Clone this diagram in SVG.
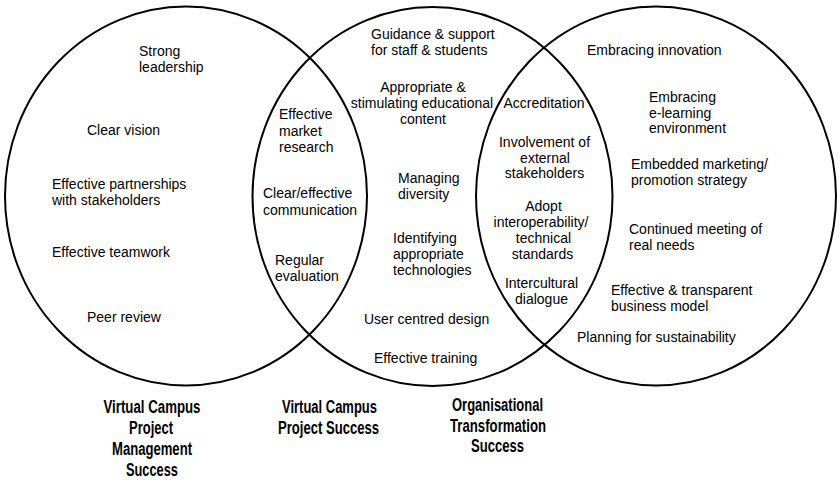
<svg xmlns="http://www.w3.org/2000/svg" width="840" height="488" viewBox="0 0 840 488">
<style>
.set{fill:none;stroke:#000;stroke-width:2}
.t{font-family:"Liberation Sans",Arial,sans-serif;font-size:14px;fill:#000}
.c{text-anchor:middle}
.h{font-family:"Liberation Sans",Arial,sans-serif;font-size:18px;font-weight:bold;fill:#000;text-anchor:middle}
</style>
<rect width="840" height="488" fill="#fff"/>
<g id="sets">
<ellipse id="set-pm" class="set" cx="186" cy="196" rx="181" ry="189.5"/>
<ellipse id="set-project" class="set" cx="432.5" cy="196.5" rx="180" ry="189.5"/>
<ellipse id="set-org" class="set" cx="656" cy="196" rx="180" ry="189.5"/>
</g>
<g id="titles">
<g id="title-pm">
<text class="h" x="152" y="413" textLength="97" lengthAdjust="spacingAndGlyphs">Virtual Campus</text>
<text class="h" x="151" y="434" textLength="44" lengthAdjust="spacingAndGlyphs">Project</text>
<text class="h" x="152" y="455" textLength="80" lengthAdjust="spacingAndGlyphs">Management</text>
<text class="h" x="152" y="476" textLength="52" lengthAdjust="spacingAndGlyphs">Success</text>
</g>
<g id="title-project">
<text class="h" x="329.5" y="413" textLength="95" lengthAdjust="spacingAndGlyphs">Virtual Campus</text>
<text class="h" x="328.5" y="434" textLength="101" lengthAdjust="spacingAndGlyphs">Project Success</text>
</g>
<g id="title-org">
<text class="h" x="497.5" y="411" textLength="91" lengthAdjust="spacingAndGlyphs">Organisational</text>
<text class="h" x="498" y="431.5" textLength="96" lengthAdjust="spacingAndGlyphs">Transformation</text>
<text class="h" x="497.5" y="452" textLength="53" lengthAdjust="spacingAndGlyphs">Success</text>
</g>
</g>
<g id="pm-items">
<g id="strong-leadership"><text class="t" x="139" y="56">Strong</text><text class="t" x="139" y="72">leadership</text></g>
<g id="clear-vision"><text class="t" x="87" y="135">Clear vision</text></g>
<g id="partnerships"><text class="t" x="52" y="189">Effective partnerships</text><text class="t" x="52" y="205">with stakeholders</text></g>
<g id="teamwork"><text class="t" x="52" y="257">Effective teamwork</text></g>
<g id="peer-review"><text class="t" x="87" y="322">Peer review</text></g>
</g>
<g id="pm-project-items">
<g id="market-research"><text class="t" x="279" y="119">Effective</text><text class="t" x="279" y="135.5">market</text><text class="t" x="279" y="152">research</text></g>
<g id="communication"><text class="t" x="263" y="198">Clear/effective</text><text class="t" x="263" y="215">communication</text></g>
<g id="evaluation"><text class="t" x="275" y="264.5">Regular</text><text class="t" x="275" y="281">evaluation</text></g>
</g>
<g id="project-items">
<g id="guidance"><text class="t" x="371" y="39">Guidance &amp; support</text><text class="t" x="371" y="55">for staff &amp; students</text></g>
<g id="content"><text class="t c" x="423" y="92">Appropriate &amp;</text><text class="t c" x="422" y="108">stimulating educational</text><text class="t c" x="423" y="124">content</text></g>
<g id="diversity"><text class="t" x="398" y="183">Managing</text><text class="t" x="398" y="199">diversity</text></g>
<g id="technologies"><text class="t" x="393" y="243">Identifying</text><text class="t" x="393" y="259">appropriate</text><text class="t" x="393" y="275">technologies</text></g>
<g id="user-centred"><text class="t" x="364" y="324">User centred design</text></g>
<g id="training"><text class="t" x="374" y="363">Effective training</text></g>
</g>
<g id="project-org-items">
<g id="accreditation"><text class="t c" x="544" y="108">Accreditation</text></g>
<g id="external"><text class="t c" x="544.5" y="147">Involvement of</text><text class="t c" x="545" y="162.5">external</text><text class="t c" x="544.5" y="178">stakeholders</text></g>
<g id="interoperability"><text class="t c" x="543.5" y="210.5">Adopt</text><text class="t c" x="541" y="226.5">interoperability/</text><text class="t c" x="543.5" y="242.5">technical</text><text class="t c" x="542.5" y="258.5">standards</text></g>
<g id="intercultural"><text class="t c" x="541.5" y="288">Intercultural</text><text class="t c" x="541.5" y="304">dialogue</text></g>
</g>
<g id="org-items">
<g id="innovation"><text class="t" x="587" y="55">Embracing innovation</text></g>
<g id="elearning"><text class="t" x="649" y="102">Embracing</text><text class="t" x="649" y="117.5">e-learning</text><text class="t" x="649" y="133">environment</text></g>
<g id="marketing"><text class="t" x="631" y="169">Embedded marketing/</text><text class="t" x="631" y="185">promotion strategy</text></g>
<g id="real-needs"><text class="t" x="629" y="234">Continued meeting of</text><text class="t" x="629" y="250">real needs</text></g>
<g id="business-model"><text class="t" x="611" y="295">Effective &amp; transparent</text><text class="t" x="611" y="311">business model</text></g>
<g id="sustainability"><text class="t" x="577" y="342">Planning for sustainability</text></g>
</g>
<g id="connectors"/>
</svg>
